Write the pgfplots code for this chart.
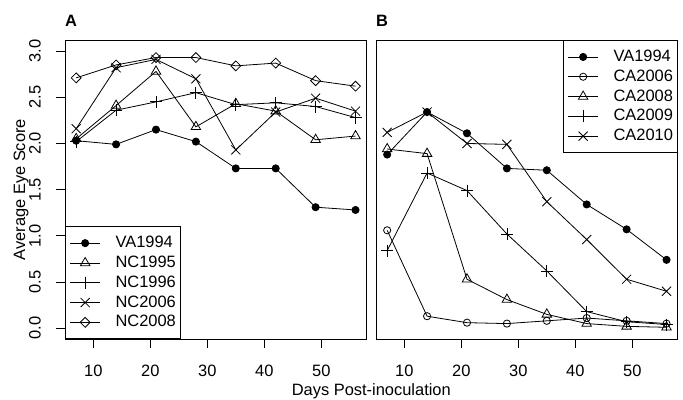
\documentclass[border=0pt]{standalone}
\usepackage{pgfplots}
\pgfplotsset{compat=1.18}
\usepackage{fontspec}
\setmainfont{Liberation Sans}
\newcommand{\fs}{\fontsize{16.5}{19.8}\selectfont}
\begin{document}
\begin{tikzpicture}
\useasboundingbox (0bp,0bp) rectangle (683bp,400bp);
\pgfplotsset{
  rstyle/.style={
    scale only axis, width=301.7bp, height=299.3bp,
    anchor=south west,
    xmin=5.04, xmax=57.96, ymin=-0.12, ymax=3.12,
    xtick={10,20,30,40,50},
    xtick pos=bottom, ytick pos=left,
    tick align=outside, major tick length=8.5bp,
    axis line style={line width=0.9bp},
    every tick/.style={black, line width=0.9bp},
    /pgf/number format/assume math mode=true,
    xticklabel style={font=\fs, anchor=center},
    xticklabel shift=23bp,
    every axis plot/.append style={black, line width=0.8bp, mark options={solid, line width=0.8bp}},
    legend cell align=left,
    legend image code/.code={\draw[mark repeat=2,mark phase=2] plot coordinates {(0bp,0bp) (15bp,0bp) (30bp,0bp)}; \path (45bp,0bp);},
    legend style={font=\fs, draw=black, line width=0.9bp, fill=white,
      inner xsep=4.3bp, inner ysep=9bp, row sep=4.8bp,
      nodes={inner sep=0pt, text height=12bp, text depth=3bp}},
  },
  pfill/.style={mark=*, mark size=3.6bp},
  popen/.style={mark=o, mark size=3.6bp},
  ptri/.style={mark=triangle, mark size=5.5bp},
  pplus/.style={mark=+, mark size=6bp},
  px/.style={mark=x, mark size=6.4bp},
  pdia/.style={mark=square, mark size=3.5bp, mark options={rotate=45}},
}
\begin{axis}[rstyle, at={(65bp,60.7bp)},
  ytick={0,0.5,1,1.5,2,2.5,3},
  yticklabel style={font=\fs, rotate=90, anchor=center, /pgf/number format/fixed, /pgf/number format/fixed zerofill, /pgf/number format/precision=1},
  yticklabel shift=21.5bp,
  legend style={at={(rel axis cs:0,0)}, anchor=south west}]
\addplot[pfill] coordinates {(7,2.03) (14,1.99) (21,2.15) (28,2.02) (35,1.73) (42,1.73) (49,1.31) (56,1.28)};
\addplot[ptri] coordinates {(7,2.05) (14,2.41) (21,2.78) (28,2.18) (35,2.43) (42,2.35) (49,2.04) (56,2.08)};
\addplot[pplus] coordinates {(7,2.02) (14,2.36) (21,2.45) (28,2.55) (35,2.42) (42,2.44) (49,2.40) (56,2.28)};
\addplot[px] coordinates {(7,2.16) (14,2.82) (21,2.91) (28,2.70) (35,1.93) (42,2.34) (49,2.49) (56,2.35)};
\addplot[pdia] coordinates {(7,2.71) (14,2.85) (21,2.93) (28,2.93) (35,2.84) (42,2.87) (49,2.68) (56,2.62)};
\legend{VA1994,NC1995,NC1996,NC2006,NC2008}
\end{axis}
\begin{axis}[rstyle, at={(376bp,60.7bp)}, ytick=\empty,
  legend style={at={(rel axis cs:1,1)}, anchor=north east}]
\addplot[pfill] coordinates {(7,1.88) (14,2.34) (21,2.11) (28,1.73) (35,1.71) (42,1.34) (49,1.07) (56,0.74)};
\addplot[popen] coordinates {(7,1.06) (14,0.13) (21,0.06) (28,0.05) (35,0.08) (42,0.11) (49,0.08) (56,0.05)};
\addplot[ptri] coordinates {(7,1.94) (14,1.89) (21,0.53) (28,0.31) (35,0.15) (42,0.05) (49,0.02) (56,0.01)};
\addplot[pplus] coordinates {(7,0.84) (14,1.68) (21,1.49) (28,1.02) (35,0.62) (42,0.18) (49,0.07) (56,0.04)};
\addplot[px] coordinates {(7,2.12) (14,2.34) (21,2.00) (28,1.99) (35,1.37) (42,0.96) (49,0.53) (56,0.40)};
\legend{VA1994,CA2006,CA2008,CA2009,CA2010}
\end{axis}
\node[anchor=base west, inner sep=0pt, font=\fontsize{16.5}{19.8}\selectfont\bfseries] at (65bp,373.3bp) {A};
\node[anchor=base west, inner sep=0pt, font=\fontsize{16.5}{19.8}\selectfont\bfseries] at (376bp,373.3bp) {B};
\node[anchor=base, inner sep=0pt, font=\fs] at (371.3bp,5bp) {Days Post-inoculation};
\node[anchor=base, inner sep=0pt, font=\fs, rotate=90] at (25bp,210.3bp) {Average Eye Score};
\end{tikzpicture}
\end{document}
